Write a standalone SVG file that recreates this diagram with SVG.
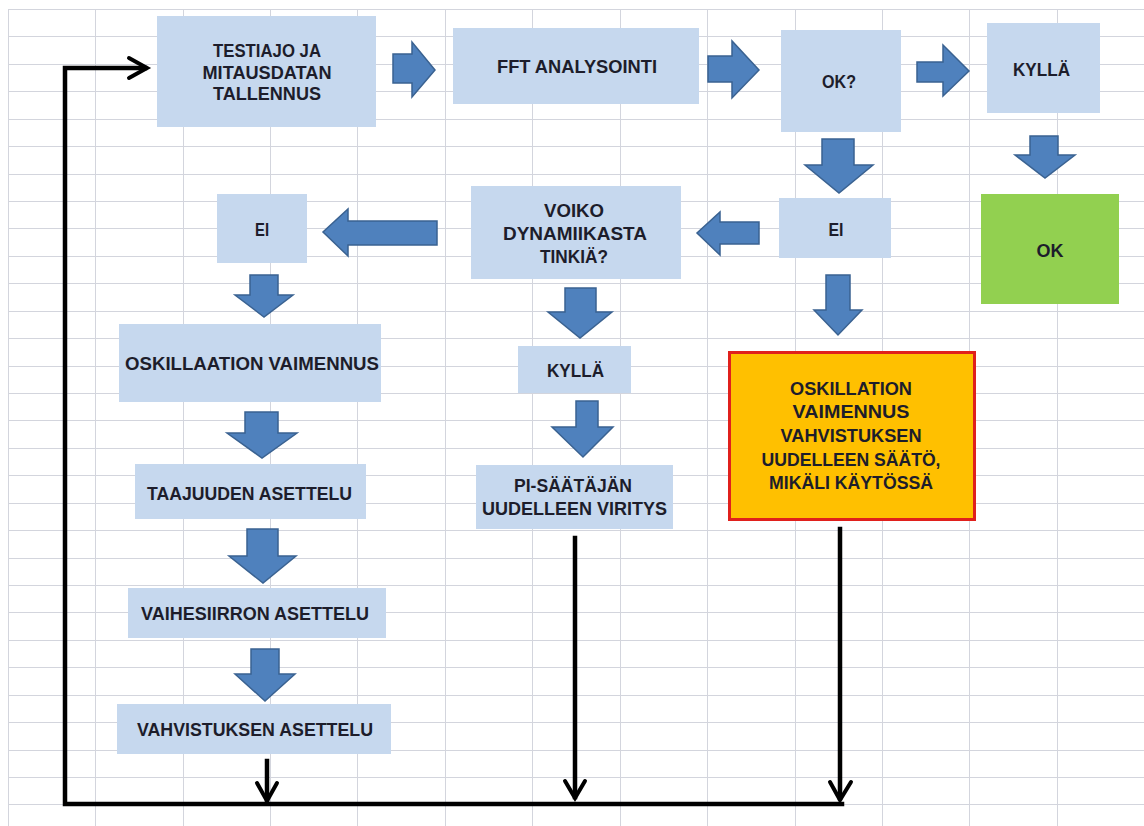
<svg xmlns="http://www.w3.org/2000/svg" width="1144" height="826" viewBox="0 0 1144 826">
<style>
.grid{stroke:#d3d5dd;stroke-width:1;fill:none}
.box{fill:#c6d8ee}
.t{font-family:"Liberation Sans",Arial,sans-serif;font-weight:bold;font-size:18px;fill:#1d1d2b;text-anchor:middle}
.blk{fill:#4f81bd;stroke:#3a6291;stroke-width:1.5;stroke-linejoin:miter}
.ln{fill:none;stroke:#000;stroke-width:4.5;stroke-linecap:square}
.hd{fill:none;stroke:#000;stroke-width:4;stroke-linejoin:miter;stroke-linecap:round}
</style>
<rect width="1144" height="826" fill="#fff"/>
<path class="grid" d="M8.5 9V826M95.5 9V826M183.5 9V826M270.5 9V826M357.5 9V826M445.5 9V826M532.5 9V826M620.5 9V826M707.5 9V826M795.5 9V826M882.5 9V826M969.5 9V826M1057.5 9V826
M8 9.5H1144M8 36.5H1144M8 64.5H1144M8 91.5H1144M8 119.5H1144M8 146.5H1144M8 174.5H1144M8 201.5H1144M8 228.5H1144M8 256.5H1144M8 283.5H1144M8 311.5H1144M8 338.5H1144M8 366.5H1144M8 393.5H1144M8 420.5H1144M8 448.5H1144M8 475.5H1144M8 503.5H1144M8 530.5H1144M8 558.5H1144M8 585.5H1144M8 612.5H1144M8 640.5H1144M8 667.5H1144M8 695.5H1144M8 722.5H1144M8 750.5H1144M8 777.5H1144M8 804.5H1144"/>

<g id="n-testiajo"><rect class="box" x="157" y="16" width="219" height="111"/>
<text class="t" x="267" y="57" textLength="108" lengthAdjust="spacingAndGlyphs">TESTIAJO JA</text>
<text class="t" x="267" y="79" textLength="129" lengthAdjust="spacingAndGlyphs">MITAUSDATAN</text>
<text class="t" x="267" y="100" textLength="108" lengthAdjust="spacingAndGlyphs">TALLENNUS</text></g>

<g id="n-fft"><rect class="box" x="453" y="28" width="246" height="76"/>
<text class="t" x="577" y="72.5" textLength="160" lengthAdjust="spacingAndGlyphs">FFT ANALYSOINTI</text></g>

<g id="n-ok-q"><rect class="box" x="781" y="30" width="120" height="102"/>
<text class="t" x="839" y="88" textLength="34" lengthAdjust="spacingAndGlyphs">OK?</text></g>

<g id="n-kylla1"><rect class="box" x="987" y="23" width="113" height="90"/>
<text class="t" x="1041.5" y="76" textLength="57" lengthAdjust="spacingAndGlyphs">KYLLÄ</text></g>

<g id="n-ok"><rect x="981" y="194" width="138" height="110" fill="#92d050"/>
<text class="t" x="1050" y="257" textLength="27" lengthAdjust="spacingAndGlyphs">OK</text></g>

<g id="n-ei1"><rect class="box" x="779" y="198" width="112" height="60"/>
<text class="t" x="836" y="236" textLength="15" lengthAdjust="spacingAndGlyphs">EI</text></g>

<g id="n-voiko"><rect class="box" x="471" y="186" width="210" height="93"/>
<text class="t" x="574" y="217" textLength="60" lengthAdjust="spacingAndGlyphs">VOIKO</text>
<text class="t" x="575" y="240" textLength="144" lengthAdjust="spacingAndGlyphs">DYNAMIIKASTA</text>
<text class="t" x="574" y="263" textLength="68" lengthAdjust="spacingAndGlyphs">TINKIÄ?</text></g>

<g id="n-ei2"><rect class="box" x="217" y="194" width="90" height="69"/>
<text class="t" x="262" y="236" textLength="14" lengthAdjust="spacingAndGlyphs">EI</text></g>

<g id="n-kylla2"><rect class="box" x="518" y="346" width="113" height="47"/>
<text class="t" x="575.5" y="377" textLength="57" lengthAdjust="spacingAndGlyphs">KYLLÄ</text></g>

<g id="n-pi"><rect class="box" x="476" y="465" width="197" height="64"/>
<text class="t" x="573" y="492" textLength="118" lengthAdjust="spacingAndGlyphs">PI-SÄÄTÄJÄN</text>
<text class="t" x="574.5" y="515" textLength="185" lengthAdjust="spacingAndGlyphs">UUDELLEEN VIRITYS</text></g>

<g id="n-oskillation"><rect x="729.5" y="352.5" width="245" height="167" fill="#ffc000" stroke="#e0201c" stroke-width="3"/>
<text class="t" x="851" y="395" textLength="122" lengthAdjust="spacingAndGlyphs">OSKILLATION</text>
<text class="t" x="851" y="418" textLength="117" lengthAdjust="spacingAndGlyphs">VAIMENNUS</text>
<text class="t" x="851" y="442" textLength="141" lengthAdjust="spacingAndGlyphs">VAHVISTUKSEN</text>
<text class="t" x="851" y="466" textLength="179" lengthAdjust="spacingAndGlyphs">UUDELLEEN SÄÄTÖ,</text>
<text class="t" x="851" y="489" textLength="164" lengthAdjust="spacingAndGlyphs">MIKÄLI KÄYTÖSSÄ</text></g>

<g id="n-oskillaation"><rect class="box" x="119" y="324" width="262" height="78"/>
<text class="t" x="252" y="370" textLength="254" lengthAdjust="spacingAndGlyphs">OSKILLAATION VAIMENNUS</text></g>

<g id="n-taajuus"><rect class="box" x="135" y="464" width="231" height="55"/>
<text class="t" x="249.5" y="500" textLength="205" lengthAdjust="spacingAndGlyphs">TAAJUUDEN ASETTELU</text></g>

<g id="n-vaihe"><rect class="box" x="128" y="588" width="258" height="50"/>
<text class="t" x="255" y="620" textLength="228" lengthAdjust="spacingAndGlyphs">VAIHESIIRRON ASETTELU</text></g>

<g id="n-vahvistus"><rect class="box" x="117" y="704" width="274" height="50"/>
<text class="t" x="255" y="736" textLength="236" lengthAdjust="spacingAndGlyphs">VAHVISTUKSEN ASETTELU</text></g>

<g id="connectors">
<!-- block arrows right -->
<path class="blk" d="M393 54H412V42L435 70L412 97V83H393Z"/>
<path class="blk" d="M708 56H732V41L759 70L732 98V82H708Z"/>
<path class="blk" d="M917 62H943V45L969 71L943 96V82H917Z"/>
<!-- block arrows left -->
<path class="blk" d="M759 222H720V212L697 233L720 255V244H759Z"/>
<path class="blk" d="M437 221H348V209L323 232L348 256V245H437Z"/>
<!-- block arrows down -->
<path class="blk" d="M822 139H854V165H873L839 193L805 165H822Z"/>
<path class="blk" d="M1030 136H1058V155H1075L1045 178L1015 155H1030Z"/>
<path class="blk" d="M826 275H850V310H862L838 335L814 310H826Z"/>
<path class="blk" d="M565 288H596V312H612L580 338L548 312H565Z"/>
<path class="blk" d="M576 401H598V427H613L583 457L552 427H576Z"/>
<path class="blk" d="M250 275H278V295H293L264 317L235 295H250Z"/>
<path class="blk" d="M245 412H278V433H297L262 458L227 433H245Z"/>
<path class="blk" d="M247 529H278V556H296L263 583L229 556H247Z"/>
<path class="blk" d="M251 649H279V674H295L265 701L235 674H251Z"/>
<!-- black feedback lines -->
<path class="ln" d="M267 761V800"/>
<path class="ln" d="M575 538V797"/>
<path class="ln" d="M840 529V798"/>
<path class="ln" d="M842 804H65V68H145"/>
<polyline class="hd" points="257,783 267,801 277,783"/>
<polyline class="hd" points="565,781 575,798 585,781"/>
<polyline class="hd" points="830,782 840,800 851,782"/>
<polyline class="hd" points="129,58 147,68 129,78"/>
</g>
</svg>
